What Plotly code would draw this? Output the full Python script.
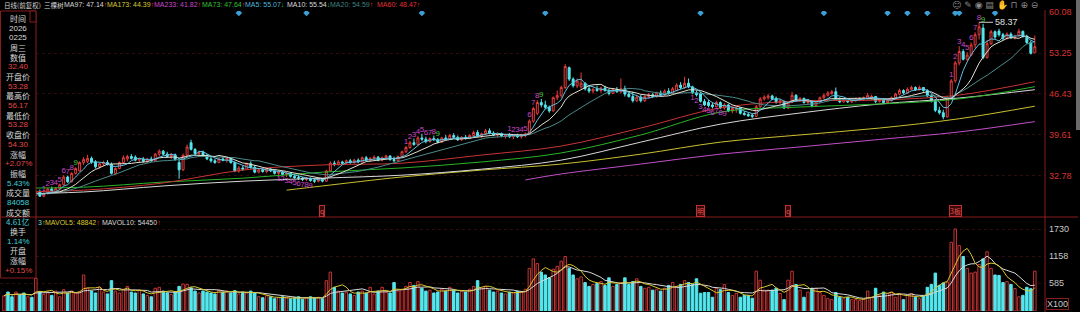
import plotly.graph_objects as go
import pandas as pd

# ---------------- data ----------------
open_ = [
 29.8,30.1,29.9,29.7,30.3,30.0,29.6,29.8,29.5,30.2,
 29.4,29.8,30.6,30.2,30.7,31.3,32.6,31.8,33.2,33.6,
 35.0,35.2,35.7,35.1,34.3,34.8,35.0,34.7,33.2,34.0,
 35.0,35.6,36.0,35.9,35.4,35.6,35.2,35.6,35.3,36.4,
 36.9,36.4,36.0,36.3,35.0,33.8,36.2,38.3,37.2,36.5,
 36.7,36.2,35.6,35.3,35.0,35.6,35.4,35.7,35.0,33.6,
 34.1,33.9,34.8,34.2,33.4,33.8,33.5,33.9,33.6,33.2,
 33.4,33.0,33.2,32.7,32.5,32.4,32.2,32.4,32.0,31.9,
 32.2,31.9,33.6,34.9,34.7,35.1,34.9,35.3,35.0,35.4,
 35.1,35.8,35.4,35.7,35.9,35.4,35.8,36.1,35.5,35.3,
 36.0,36.8,37.5,38.3,38.0,39.1,38.9,38.5,39.0,38.8,
 38.4,39.1,38.9,39.5,39.2,38.8,39.2,39.0,39.5,40.0,
 39.4,39.8,40.3,39.9,39.6,39.8,39.4,39.6,39.3,39.5,
 39.3,39.6,39.8,41.9,43.2,45.0,44.6,44.2,43.6,45.8,
 46.2,47.5,50.8,48.9,47.8,47.6,48.2,47.3,46.9,47.2,
 47.0,47.4,47.0,46.5,47.2,46.8,47.3,46.4,46.0,45.3,
 45.9,45.3,46.0,46.3,46.0,46.6,46.3,46.9,46.6,47.0,
 47.9,47.5,48.2,47.6,46.6,46.5,45.2,45.0,44.6,44.3,
 45.0,44.1,44.6,43.6,43.9,44.1,43.2,43.0,42.9,42.7,
 44.3,45.6,45.8,46.1,45.7,45.0,45.2,44.1,45.0,46.2,
 45.4,45.7,45.0,45.3,44.5,45.1,45.8,46.2,46.5,46.8,
 45.6,45.1,45.5,45.1,45.3,45.5,45.6,45.6,45.9,46.0,
 45.2,45.5,45.0,45.3,45.8,46.4,47.0,46.6,47.2,47.5,
 47.1,47.5,47.0,46.1,45.3,43.7,43.3,42.6,45.8,48.6,
 51.6,53.5,52.2,52.9,54.6,56.3,57.4,52.5,54.8,56.8,
 56.9,56.3,55.7,56.4,55.8,56.2,56.85,56.0,55.0,53.28]
high = [
 30.3,30.4,30.2,30.5,30.6,30.3,30.0,30.2,30.4,30.5,
 30.0,30.8,31.0,30.9,31.5,32.9,32.8,33.4,34.2,35.2,
 35.9,36.3,36.0,35.4,35.0,35.3,35.4,35.0,34.2,35.2,
 36.2,36.3,36.4,36.2,35.8,35.9,35.8,36.0,36.6,37.2,
 37.1,36.8,36.6,36.5,35.5,36.5,38.0,38.8,37.4,37.0,
 37.0,36.4,36.0,35.6,35.8,35.9,35.9,35.8,35.2,34.4,
 34.5,35.0,35.2,34.6,34.0,34.1,34.0,34.2,33.9,33.7,
 33.6,33.4,33.4,33.0,32.9,32.6,32.6,32.5,32.3,32.4,
 32.4,33.8,35.2,35.3,35.4,35.3,35.5,35.6,35.6,35.7,
 36.0,36.1,35.9,36.2,36.1,36.0,36.3,36.2,36.0,36.2,
 37.0,37.8,38.6,39.0,39.4,39.8,39.3,39.2,39.5,39.1,
 39.3,39.6,39.8,39.9,39.5,39.4,39.6,39.7,40.3,40.4,
 40.0,40.6,40.7,40.2,40.0,40.0,39.8,39.9,39.7,39.8,
 39.8,40.0,42.2,44.3,45.4,45.6,45.3,44.5,46.0,47.0,
 47.8,51.4,51.0,49.2,49.0,50.0,48.4,47.9,47.5,47.8,
 47.6,47.8,47.3,47.4,47.6,49.0,47.8,46.9,46.8,46.2,
 46.3,46.2,46.6,46.6,46.8,47.0,47.2,47.4,47.6,48.2,
 48.4,49.3,49.0,47.8,47.0,46.8,45.6,45.4,45.0,45.3,
 45.2,44.9,44.8,44.2,44.3,44.2,43.6,43.3,43.1,44.6,
 45.9,46.2,46.4,46.3,46.0,45.6,45.3,45.2,46.8,46.4,
 45.9,45.8,45.6,45.4,45.4,46.0,46.5,46.9,47.1,47.5,
 45.9,45.8,45.7,45.6,45.8,45.9,46.0,46.6,46.3,46.1,
 45.7,45.6,45.6,46.0,46.6,47.3,47.2,47.5,47.8,47.7,
 47.8,47.6,47.2,46.4,45.5,44.3,43.8,46.1,48.9,51.9,
 54.4,53.9,53.4,55.0,56.7,58.37,58.1,55.4,57.1,57.0,
 57.3,56.6,56.7,56.7,56.3,57.3,57.0,56.3,55.3,56.17]
low = [
 29.5,29.7,29.6,29.6,29.9,29.5,29.2,29.3,29.4,29.3,
 29.2,29.7,30.0,30.1,30.5,31.2,31.6,31.7,33.0,33.5,
 34.6,34.9,34.8,34.0,34.0,34.4,34.5,33.0,33.0,33.9,
 34.8,35.2,35.5,35.2,35.0,35.0,34.9,35.1,35.2,36.0,
 36.2,35.8,35.6,35.3,32.3,33.6,36.0,37.0,36.2,36.0,
 36.0,35.4,35.0,34.8,34.9,35.2,35.0,34.8,33.4,33.3,
 33.6,33.8,34.0,33.2,33.2,33.3,33.2,33.4,33.0,32.9,
 32.9,32.6,32.5,32.3,32.1,31.9,31.9,31.8,31.6,31.7,
 31.7,31.8,33.4,34.4,34.5,34.6,34.7,34.8,34.8,34.9,
 35.0,35.2,35.1,35.4,35.2,35.2,35.5,35.3,35.1,35.2,
 35.9,36.6,37.3,37.8,37.9,38.6,38.2,38.3,38.6,38.2,
 38.3,38.7,38.8,39.0,38.6,38.6,38.8,38.9,39.3,39.2,
 39.1,39.6,39.7,39.4,39.2,39.2,39.0,39.1,38.9,39.1,
 39.0,39.2,39.7,41.6,42.9,44.2,43.9,43.3,43.5,45.4,
 45.8,47.2,48.6,47.5,47.4,47.3,47.0,46.6,46.5,46.8,
 46.6,46.8,46.2,46.4,46.6,46.5,46.0,45.8,45.0,45.1,
 45.0,45.1,45.6,45.8,45.8,46.0,46.1,46.3,46.4,46.9,
 47.2,47.3,47.4,46.4,46.0,45.0,44.4,44.2,44.0,44.2,
 43.9,43.8,43.4,43.2,43.3,43.0,42.8,42.6,42.4,42.6,
 44.1,45.3,45.5,45.4,44.8,44.7,43.9,43.9,44.9,45.2,
 45.1,44.8,44.6,44.2,44.3,45.0,45.6,46.0,46.3,45.3,
 44.9,45.0,44.9,44.9,45.1,45.2,45.3,45.5,45.5,44.9,
 45.0,44.8,44.9,45.2,45.6,46.2,46.4,46.5,47.0,46.9,
 47.0,46.8,45.9,45.0,43.4,43.0,42.2,42.5,45.5,48.3,
 51.2,52.0,51.9,52.7,54.0,55.5,52.2,52.3,54.6,55.6,
 56.0,55.4,55.5,55.6,55.5,56.0,55.8,54.7,53.0,53.28]
close = [
 30.1,29.9,29.7,30.3,30.0,29.6,29.8,29.5,30.2,29.4,
 29.8,30.6,30.2,30.7,31.3,32.6,31.8,33.2,34.0,35.0,
 35.5,35.7,35.1,34.3,34.8,35.0,34.7,33.2,34.0,35.0,
 35.8,36.0,35.7,35.4,35.6,35.2,35.6,35.3,36.4,36.9,
 36.4,36.0,36.3,35.5,33.8,36.2,37.6,37.2,36.5,36.7,
 36.2,35.6,35.3,35.0,35.6,35.4,35.7,35.0,33.6,34.1,
 33.9,34.8,34.2,33.4,33.8,33.5,33.9,33.6,33.2,33.4,
 33.0,33.2,32.7,32.5,32.4,32.2,32.4,32.0,31.9,32.2,
 31.9,33.6,34.9,34.7,35.1,34.9,35.3,35.0,35.4,35.1,
 35.8,35.4,35.7,35.9,35.4,35.8,36.1,35.5,35.3,36.0,
 36.8,37.5,38.3,38.0,39.1,38.9,38.5,39.0,38.8,38.4,
 39.1,38.9,39.5,39.2,38.8,39.2,39.0,39.5,40.0,39.4,
 39.8,40.3,39.9,39.6,39.8,39.4,39.6,39.3,39.5,39.3,
 39.6,39.8,41.9,44.0,45.0,44.6,44.2,43.6,45.8,46.2,
 47.5,51.0,48.9,47.8,48.6,48.2,47.3,46.9,47.2,47.0,
 47.4,47.0,46.5,47.2,46.8,47.3,46.4,46.0,45.3,45.9,
 45.3,46.0,46.3,46.0,46.6,46.3,46.9,46.6,47.3,47.9,
 47.5,48.2,47.6,46.6,46.3,45.2,44.6,44.5,44.3,45.0,
 44.1,44.6,43.6,44.0,44.1,43.2,43.0,42.8,42.7,44.3,
 45.6,45.9,46.1,45.6,45.0,45.3,44.1,45.0,46.2,45.4,
 45.7,45.0,45.3,44.5,45.1,45.8,46.2,46.6,46.8,45.6,
 45.1,45.5,45.1,45.4,45.6,45.7,45.8,46.2,46.0,45.2,
 45.5,45.0,45.4,45.8,46.4,47.0,46.6,47.2,47.5,47.1,
 47.5,47.0,46.1,45.3,43.7,43.3,42.6,45.8,48.6,51.6,
 53.5,52.2,52.9,54.6,56.3,57.6,52.5,54.8,56.8,55.9,
 56.3,55.7,56.4,55.8,55.85,56.85,56.0,55.0,53.2,54.30]
volume = [  # in units of 100 lots, as on the axis (X100)
 320,400,300,400,340,380,300,290,690,410,
 350,400,330,420,300,450,380,420,380,400,
 760,480,420,380,500,400,360,640,420,380,
 460,520,400,380,440,360,330,300,480,500,
 420,380,350,400,520,570,560,490,420,380,
 420,400,380,360,440,400,420,380,430,360,
 400,380,420,390,300,280,320,300,260,280,
 300,270,260,280,300,250,280,300,270,290,
 260,640,820,500,420,380,400,360,330,400,
 420,380,500,360,420,500,400,380,600,420,
 460,520,600,540,620,480,420,440,380,400,
 460,420,500,440,380,420,400,460,520,640,
 480,520,440,400,420,380,360,400,380,420,
 400,460,900,1100,1000,820,760,700,880,940,
 1050,1150,900,760,680,720,600,520,560,580,
 620,540,700,520,560,600,700,560,620,680,
 520,480,500,440,460,420,480,540,600,520,
 560,640,600,560,680,375,390,390,290,480,
 450,560,390,330,370,290,330,330,270,840,
 650,440,440,440,480,370,240,650,840,560,
 440,290,400,480,480,390,330,260,240,390,
 290,260,290,240,240,220,240,420,290,480,
 330,400,370,400,290,370,240,330,370,290,
 260,330,500,560,800,540,590,610,1450,1730,
 1380,1150,900,800,820,980,1100,1250,900,760,
 750,600,620,560,474,300,330,500,470,840.58]

# long moving averages (their history precedes the window)
ma60_idx = [0, 20, 40, 60, 80, 100, 120, 140, 160, 180, 200, 220, 240, 259]
ma60_val = [30.1, 30.4, 31.6, 33.75, 34.6, 34.9, 36.25, 37.75, 40.75, 44.1, 45.25, 45.4, 46.25, 48.47]
ma73_idx = [0, 20, 40, 60, 80, 100, 120, 140, 160, 180, 200, 220, 240, 259]
ma73_val = [30.75, 30.9, 31.75, 32.4, 33.4, 34.1, 35.1, 36.6, 39.6, 43.4, 44.25, 44.75, 45.6, 47.64]
ma97_idx = [0, 20, 40, 60, 80, 100, 120, 140, 160, 180, 200, 220, 240, 259]
ma97_val = [29.75, 30.1, 31.1, 31.9, 32.4, 32.9, 33.9, 35.4, 38.4, 41.4, 43.25, 44.75, 45.75, 47.14]
ma173_idx = [71, 80, 100, 120, 140, 160, 180, 200, 220, 240, 259]
ma173_val = [30.4, 31.1, 32.6, 33.75, 34.75, 36.4, 38.4, 39.6, 40.75, 42.3, 44.39]
ma233_idx = [131, 140, 160, 180, 200, 220, 240, 259]
ma233_val = [32.1, 33.1, 34.75, 36.4, 37.6, 38.85, 40.1, 41.82]

price_ticks = [32.78, 39.61, 46.43, 53.25, 60.08]
vol_ticks = [585, 1158, 1730]

event_idx = [59, 76, 105, 136, 175, 206, 222, 227, 232, 239, 240, 249]

td_up_start = [10, 101, 127, 238]   # setup counts above highs
td_down_start = [69, 173]           # setup counts below lows

mark_idx = [80, 175, 197, 239]      # bottom event tags
mark_text = ["q", "明", "q", "3板"]

side_labels = ["时间", "2026", "0225", "周三", "数值", "32.40", "开盘价", "53.28", "最高价", "56.17",
               "最低价", "53.28", "收盘价", "54.30", "涨幅", "+2.07%", "振幅", "5.43%", "成交量", "84058",
               "成交额", "4.61亿", "换手", "1.14%", "开盘", "涨幅", "+0.15%"]
side_kind = ["w", "w", "w", "w", "w", "r", "w", "r", "w", "r",
             "w", "r", "w", "r", "w", "r", "w", "c", "w", "c",
             "w", "c", "w", "c", "w", "w", "r"]

# ---------------- styling ----------------
W, H = 1080, 312
RED = "#e83c3c"
VRED = "#c83434"
CYAN = "#54e8ee"
GRID = "#2e0c0c"
BORDER = "#8a1c1c"
MAG = "#c848c8"
GRN = "#3ccc3c"
FONT = "Liberation Sans, Noto Sans CJK SC, sans-serif"
CJK = "Noto Sans CJK SC, sans-serif"

n = len(close)
idx = list(range(n))
s = pd.Series(close)
ma5 = s.rolling(5, min_periods=1).mean()
ma10 = s.rolling(10, min_periods=1).mean()
ma20 = s.rolling(20, min_periods=1).mean()
v = pd.Series(volume)
mavol5 = v.rolling(5, min_periods=1).mean()
mavol10 = v.rolling(10, min_periods=1).mean()

up = [c >= o for o, c in zip(open_, close)]

plot_right = 1045
xr = [-4 / 3.98, (plot_right - 4) / 3.98]
main_dom = [(H - 216) / H, (H - 11) / H]
vol_dom = [(H - 311) / H, (H - 217) / H]
px_per_price = 41.0 / 6.83
price_range = [60.08 - (216 - 12) / px_per_price, 60.08 + 1 / px_per_price]
vol_range = [0, (311 - 217) * 21.1]

fig = go.Figure()

for xi, yv, col in [(ma233_idx, ma233_val, "#c050c8"), (ma173_idx, ma173_val, "#c8c030"),
                    (ma97_idx, ma97_val, "#d8d8d8"), (ma73_idx, ma73_val, "#28b428"),
                    (ma60_idx, ma60_val, "#c83434")]:
    fig.add_trace(go.Scatter(x=xi, y=yv, mode="lines", line=dict(color=col, width=1, shape="spline"),
                             hoverinfo="skip", xaxis="x", yaxis="y"))
for ser, col in [(ma20, "#4c8a8a"), (ma10, "#e0e0d0"), (ma5, "#60c0e0")]:
    fig.add_trace(go.Scatter(x=idx, y=ser, mode="lines", line=dict(color=col, width=1),
                             hoverinfo="skip", xaxis="x", yaxis="y"))

fig.add_trace(go.Candlestick(
    x=idx, open=open_, high=high, low=low, close=close,
    increasing=dict(line=dict(color=RED, width=1), fillcolor="#000000"),
    decreasing=dict(line=dict(color=CYAN, width=1), fillcolor=CYAN),
    whiskerwidth=0, xaxis="x", yaxis="y"))

for st in td_up_start:
    xs = list(range(st, st + 9))
    fig.add_trace(go.Scatter(x=xs, y=[high[i] for i in xs], mode="text",
                             text=[str(k + 1) for k in range(9)], textposition="top center",
                             textfont=dict(size=8, family=FONT, color=[MAG] * 8 + [GRN]),
                             hoverinfo="skip", xaxis="x", yaxis="y"))
for st in td_down_start:
    xs = list(range(st, st + 9))
    fig.add_trace(go.Scatter(x=xs, y=[low[i] for i in xs], mode="text",
                             text=[str(k + 1) for k in range(9)], textposition="bottom center",
                             textfont=dict(size=8, family=FONT, color=MAG),
                             hoverinfo="skip", xaxis="x", yaxis="y"))

fig.add_trace(go.Scatter(x=event_idx, y=[price_ticks[-1] - 0.15] * len(event_idx), mode="markers",
                         marker=dict(symbol="diamond", size=5, color="#3c9fd6"),
                         hoverinfo="skip", xaxis="x", yaxis="y"))

fig.add_trace(go.Bar(x=idx, y=volume, width=0.62,
                     marker=dict(color=["#000000" if u else CYAN for u in up],
                                 line=dict(color=[VRED if u else CYAN for u in up], width=1)),
                     hoverinfo="skip", xaxis="x2", yaxis="y2"))
fig.add_trace(go.Scatter(x=idx, y=mavol10, mode="lines", line=dict(color="#d8d8d8", width=1),
                         hoverinfo="skip", xaxis="x2", yaxis="y2"))
fig.add_trace(go.Scatter(x=idx, y=mavol5, mode="lines", line=dict(color="#d8c830", width=1),
                         hoverinfo="skip", xaxis="x2", yaxis="y2"))

imax = max(range(n), key=lambda i: high[i])
anns = [dict(x=imax, y=high[imax], xref="x", yref="y", text=f"{high[imax]:.2f}", showarrow=True,
             arrowhead=0, arrowwidth=1, arrowcolor="#d0d0d0", ax=14, ay=0, xanchor="left",
             font=dict(size=9, color="#e0e0e0", family=FONT))]


def px(x):
    return x / W


def py(y):
    return 1 - y / H


UPA = "<span style='color:#f03030'>↑</span>"
DNA = "<span style='color:#30c030'>↓</span>"
legend_items = [
    (2, "#d8d8d8", "日线(前复权)", ""), (42, "#d8d8d8", "三棵树", ""),
    (62, "#d8d8d8", "MA97: 47.14", UPA), (105, "#d8c830", "MA173: 44.39", UPA),
    (152, "#c848c8", "MA233: 41.82", UPA), (200, "#30c030", "MA73: 47.64", UPA),
    (243, "#50b4dc", "MA5: 55.07", DNA), (285, "#d8d8d8", "MA10: 55.54", DNA),
    (328, "#3c8080", "MA20: 54.59", UPA), (375, "#e03030", "MA60: 48.47", UPA),
]
for xp, col, txt, arr in legend_items:
    cjk = ord(txt[0]) > 255
    anns.append(dict(x=px(xp), y=py(5), xref="paper", yref="paper",
                     text=f"<span style='color:{col}'>{txt}</span>{arr}", showarrow=False,
                     xanchor="left", yanchor="middle",
                     font=dict(size=6.5 if cjk else 7, family=CJK if cjk else FONT)))

anns.append(dict(x=px(43), y=py(222), xref="paper", yref="paper",
                 text="<span style='color:#d8c830'>MAVOL5: 48842</span>" + UPA, showarrow=False,
                 xanchor="left", yanchor="middle", font=dict(size=7, family=FONT)))
anns.append(dict(x=px(100), y=py(222), xref="paper", yref="paper",
                 text="<span style='color:#d8d8d8'>MAVOL10: 54450</span>" + UPA, showarrow=False,
                 xanchor="left", yanchor="middle", font=dict(size=7, family=FONT)))
anns.append(dict(x=px(36), y=py(222), xref="paper", yref="paper",
                 text="<span style='color:#7fd8e0'>3</span><span style='color:#d8c830'>↑</span>",
                 showarrow=False, xanchor="left", yanchor="middle", font=dict(size=7, family=FONT)))

for t in price_ticks:
    anns.append(dict(x=px(1047), y=t, xref="paper", yref="y", text=f"{t:.2f}", showarrow=False,
                     xanchor="left", yanchor="middle", font=dict(size=9, color="#d83232", family=FONT)))
for t in vol_ticks:
    anns.append(dict(x=px(1047), y=t, xref="paper", yref="y2", text=str(t), showarrow=False,
                     xanchor="left", yanchor="middle", font=dict(size=9, color="#c8c8c8", family=FONT)))
anns.append(dict(x=px(1046), y=py(304), xref="paper", yref="paper", text="X100", showarrow=False,
                 xanchor="left", yanchor="middle", bordercolor=BORDER, borderwidth=1, borderpad=0,
                 font=dict(size=9, color="#c8c8c8", family=FONT)))

anns.append(dict(x=px(1040), y=py(5), xref="paper", yref="paper", text="☺ ✎ ◉ ▤ ✋ ⊓ ⊕ ⊖",
                 showarrow=False, xanchor="right", yanchor="middle",
                 font=dict(size=9, color="#8a8a8a", family="DejaVu Sans")))

for mi, mt in zip(mark_idx, mark_text):
    anns.append(dict(x=mi, y=py(211), xref="x", yref="paper", text=mt, showarrow=False,
                     xanchor="center", yanchor="middle", bordercolor="#c03030", borderwidth=1,
                     borderpad=0, bgcolor="#3a0808",
                     font=dict(size=7, color="#e05050", family=CJK)))

col_map = {"w": "#d8d8d8", "r": "#e04848", "c": "#40d0d8"}
for k, (lab, kind) in enumerate(zip(side_labels, side_kind)):
    fam = CJK if any(ord(ch) > 255 for ch in lab) else FONT
    anns.append(dict(x=px(18), y=py(18.5 + k * 9.68), xref="paper", yref="paper", text=lab,
                     showarrow=False, xanchor="center", yanchor="middle",
                     font=dict(size=8, color=col_map[kind], family=fam)))

shapes = [
    dict(type="rect", xref="paper", yref="paper", x0=px(0.5), x1=px(36), y0=py(278), y1=py(11),
         line=dict(color=BORDER, width=1), fillcolor="#000000", layer="above"),
    dict(type="rect", xref="paper", yref="paper", x0=px(30), x1=px(36), y0=py(22), y1=py(11),
         line=dict(color=BORDER, width=1), fillcolor="#000000", layer="above"),
    dict(type="line", xref="paper", yref="paper", x0=0, x1=px(1078), y0=py(217), y1=py(217),
         line=dict(color=BORDER, width=1)),
    dict(type="line", xref="paper", yref="paper", x0=px(plot_right), x1=px(plot_right), y0=0, y1=py(10),
         line=dict(color=BORDER, width=1)),
    dict(type="rect", xref="paper", yref="paper", x0=px(1076), x1=px(1080), y0=py(130), y1=1,
         line=dict(width=0), fillcolor="#6a6a6a"),
]

fig.update_layout(
    width=W, height=H, margin=dict(l=0, r=0, t=0, b=0),
    paper_bgcolor="#000000", plot_bgcolor="#000000", showlegend=False,
    annotations=anns, shapes=shapes,
    xaxis=dict(domain=[0, px(plot_right)], range=xr, visible=False, rangeslider=dict(visible=False),
               anchor="y"),
    xaxis2=dict(domain=[0, px(plot_right)], range=xr, visible=False, matches="x", anchor="y2"),
    yaxis=dict(domain=main_dom, range=price_range, tickvals=price_ticks, showticklabels=False,
               showgrid=True, gridcolor=GRID, griddash="dot", gridwidth=1, zeroline=False, anchor="x"),
    yaxis2=dict(domain=vol_dom, range=vol_range, tickvals=vol_ticks, showticklabels=False,
                showgrid=True, gridcolor=GRID, griddash="dot", gridwidth=1, zeroline=False, anchor="x2"),
)

fig.write_html("out.html")
